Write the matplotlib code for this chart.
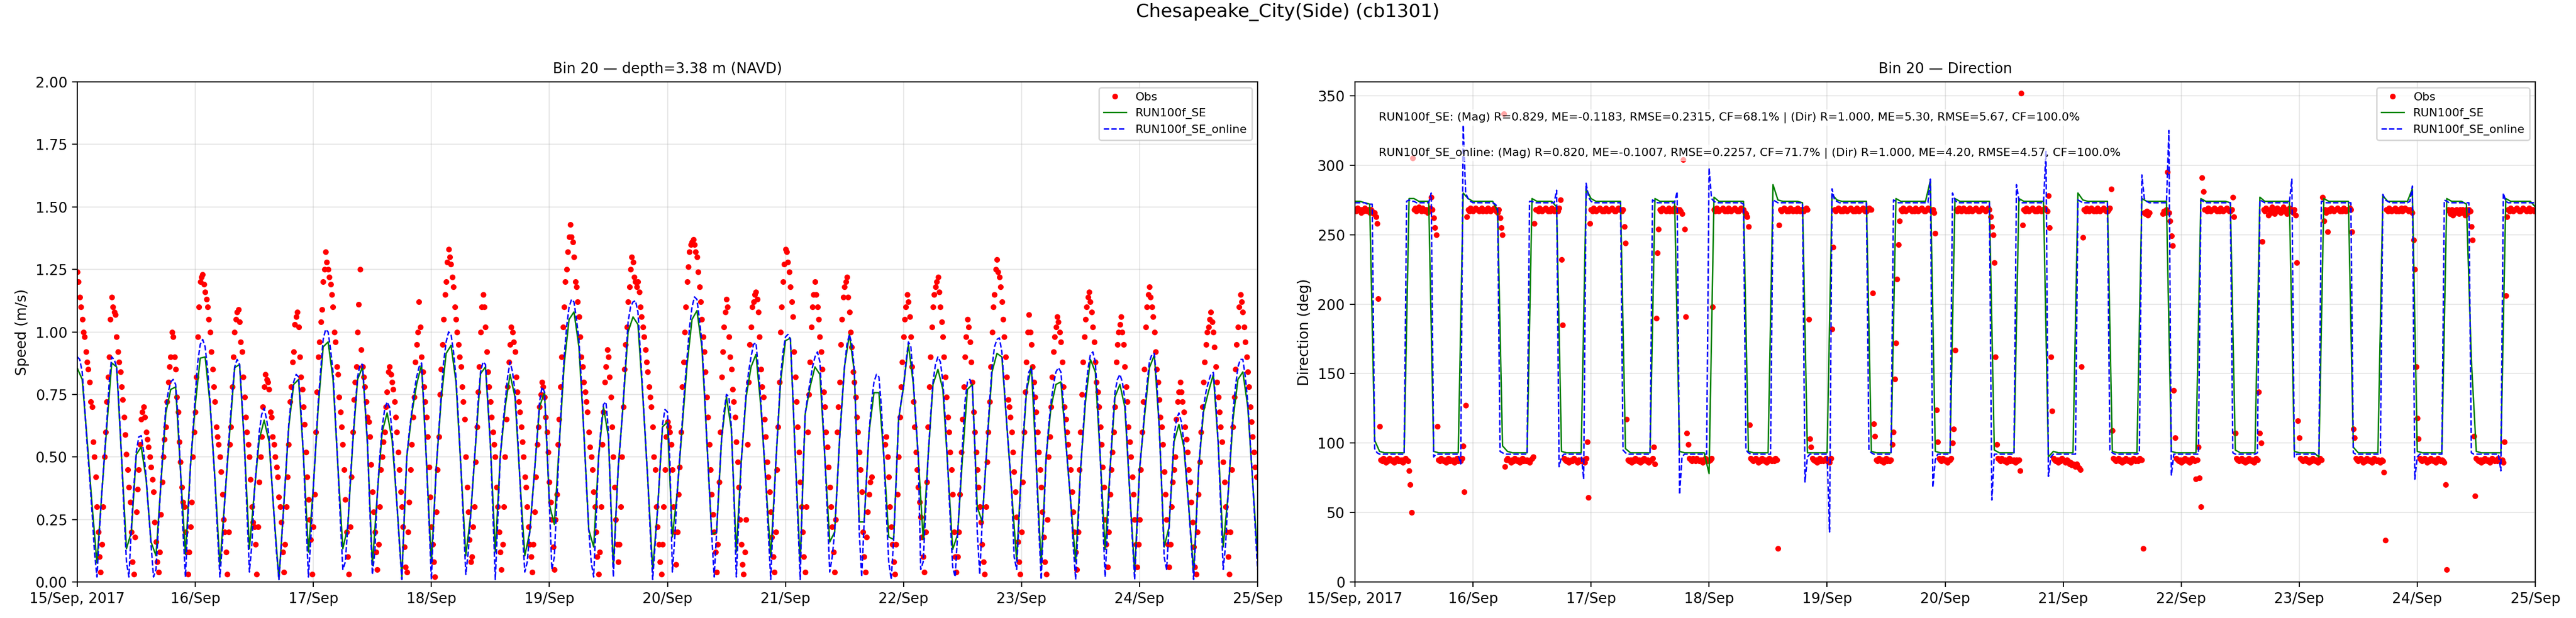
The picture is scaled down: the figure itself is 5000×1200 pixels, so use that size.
import numpy as np
import pandas as pd
import matplotlib
matplotlib.use("Agg")
import matplotlib.pyplot as plt

nan = float("nan")

# ---------------- text ----------------
station_title = "Chesapeake_City(Side) (cb1301)"
speed_title = "Bin 20 \u2014 depth=3.38 m (NAVD)"
dir_title = "Bin 20 \u2014 Direction"
speed_ylabel = "Speed (m/s)"
dir_ylabel = "Direction (deg)"
series_names = ["Obs", "RUN100f_SE", "RUN100f_SE_online"]
stats_lines = [
    "RUN100f_SE: (Mag) R=0.829, ME=-0.1183, RMSE=0.2315, CF=68.1% | (Dir) R=1.000, ME=5.30, RMSE=5.67, CF=100.0%",
    "RUN100f_SE_online: (Mag) R=0.820, ME=-0.1007, RMSE=0.2257, CF=71.7% | (Dir) R=1.000, ME=4.20, RMSE=4.57, CF=100.0%",
]
start_time = "2017-09-15 00:00"
x_tick_labels = ["15/Sep, 2017", "16/Sep", "17/Sep", "18/Sep", "19/Sep", "20/Sep",
                 "21/Sep", "22/Sep", "23/Sep", "24/Sep", "25/Sep"]
speed_ticks = [0.0, 0.25, 0.5, 0.75, 1.0, 1.25, 1.5, 1.75, 2.0]
dir_ticks = [0, 50, 100, 150, 200, 250, 300, 350]

# ---------------- observations (every 15 min), speed in cm/s ----------------
obs_speed_cms = [
    124,120,114,110, 105,100,98,92, 88,85,80,72, 70,56,50,42,
    30,20,10,4, 15,30,50,60, 72,82,90,105, 114,110,108,107,
    98,92,88,84, 78,73,66,59, 51,45,38,32, 20,8,3,18,
    28,37,45,55, 65,68,70,66, 60,57,54,50, 46,41,36,24,
    16,8,4,12, 27,40,50,57, 62,72,80,86, 90,100,98,90,
    85,74,68,56, 48,38,32,30, 20,12,3,12, 22,32,50,60,
    68,82,98,110, 120,122,123,119, 116,113,110,105, 100,92,85,78,
    72,62,58,55, 50,44,35,25, 20,12,3,20, 55,62,78,90,
    100,105,108,109, 104,96,92,82, 74,66,60,55, 50,41,30,24,
    22,15,3,22, 40,50,58,70, 78,83,81,80, 77,68,66,58,
    55,50,46,42, 34,30,24,12, 4,15,30,42, 55,72,78,88,
    92,103,106,108, 102,90,82,77, 70,63,52,42, 33,25,17,3,
    22,35,60,76, 90,96,104,109, 120,125,132,128, 125,122,119,115,
    110,100,96,86, 83,74,68,62, 55,45,33,20, 10,3,22,42,
    60,73,80,86, 100,111,125,93, 86,82,78,72, 66,64,58,47,
    36,28,20,12, 5,15,30,45, 50,56,60,70, 76,84,86,83,
    80,77,72,66, 60,52,45,36, 30,22,14,6, 4,20,32,45,
    55,66,74,88, 95,100,112,102, 90,84,78,72, 66,58,46,34,
    22,15,8,2, 28,45,58,75, 85,95,105,115, 120,128,133,130,
    127,122,118,110, 105,100,95,90, 86,78,72,65, 50,38,28,17,
    8,10,22,30, 48,62,76,86, 100,110,115,110, 102,92,84,78,
    72,66,60,55, 50,38,30,20, 12,5,15,30, 50,65,78,88,
    95,102,100,96, 92,82,76,72, 68,62,56,50, 42,38,30,22,
    15,10,4,15, 28,42,55,62, 70,75,80,78, 74,66,60,52,
    40,32,25,14, 5,25,35,55, 65,78,90,102, 110,120,125,132,
    138,143,138,136, 130,120,118,112, 106,98,90,86, 80,76,72,68,
    60,54,50,45, 36,30,20,10, 3,12,30,55, 68,80,86,93,
    90,82,74,62, 50,38,25,15, 8,15,30,50, 70,85,95,102,
    112,118,125,130, 128,122,120,118, 120,116,110,106, 102,98,93,88,
    84,78,74,70, 62,50,45,30, 22,15,8,3, 15,30,45,58,
    64,62,60,55, 45,30,20,7, 20,35,46,60, 78,88,100,110,
    120,126,132,135, 136,137,135,132, 130,124,118,112, 105,98,92,84,
    74,66,55,45, 35,27,20,12, 4,15,40,60, 82,92,102,108,
    113,110,98,90, 85,77,72,66, 56,48,38,25, 15,7,3,12,
    25,55,80,95, 102,110,112,115, 116,113,108,98, 85,78,74,65,
    58,48,42,36, 28,18,10,4, 20,45,62,80, 100,110,120,127,
    133,132,128,124, 118,112,106,92, 82,72,62,52, 40,30,20,10,
    4,30,60,75, 88,102,110,115, 120,115,110,105, 98,92,85,76,
    70,60,54,46, 38,30,22,12, 4,25,60,70, 80,95,105,114,
    118,120,122,114, 108,100,94,84, 80,74,66,60, 52,45,36,20,
    10,4,18,28, 35,40,42,nan, nan,nan,nan,nan, nan,nan,nan,nan,
    nan,55,58,50, 42,30,22,15, 8,3,15,35, 50,66,78,88,
    98,105,110,115, 112,106,98,86, 72,62,52,45, 38,32,26,18,
    10,4,20,40, 62,78,90,102, 110,115,118,120, 122,116,110,104,
    98,90,82,74, 66,60,52,45, 35,20,10,4, 10,20,35,52,
    65,78,90,98, 105,102,96,88, 80,68,60,52, 45,38,30,24,
    15,8,3,30, 48,60,72,86, 100,110,115,125, 129,124,122,118,
    112,105,98,90, 82,73,70,66, 60,52,44,36, 26,16,8,3,
    20,40,60,76, 88,100,107,100, 95,86,80,74, 68,60,52,45,
    38,28,18,8, 3,25,50,58, 70,82,92,98, 102,106,104,100,
    96,88,78,70, 65,60,55,50, 45,36,28,20, 12,5,20,45,
    60,75,88,98, 105,110,114,116, 112,108,102,96, 88,80,76,70,
    62,55,46,38, 25,15,6,20, 35,45,52,60, 70,88,95,100,
    103,106,100,95, 86,78,72,62, 56,50,42,35, 25,15,6,15,
    25,45,60,72, 85,102,110,115, 118,114,110,106, 100,92,85,80,
    73,66,62,55, 44,35,25,15, 6,15,30,40, 45,50,65,72,
    76,80,76,72, 68,62,57,52, 45,40,32,24, 14,6,3,20,
    35,48,60,70, 80,88,95,100, 102,105,108,104, 100,94,86,80,
    74,68,62,56, 48,40,30,20, 10,3,20,45, 62,74,85,95,
    102,110,115,112, 108,102,96,90, 84,78,70,64, 58,52,46,42,
]

# observations (every 15 min), direction in degrees
obs_dir_deg = [
    268,267,269,268, 268,266,268,267, 269,268,267,268, 266,268,267,265,
    266,263,258,204, 112,88,87,89, 88,86,88,87, 89,88,87,88,
    86,88,89,87, 88,87,88,86, 87,89,88,87, 80,70,50,305,
    268,269,267,268, 270,268,267,269, 268,267,268,266, 268,269,277,268,
    262,255,250,112, 88,87,89,88, 87,88,86,88, 89,87,88,87,
    88,86,88,89, 87,88,87,89, 98,65,127,263, 268,267,269,268,
    267,268,269,268, 268,267,268,269, 267,268,268,267, 269,268,267,268,
    268,269,268,267, 266,268,262,255, 250,337,83,88, 89,88,87,86,
    88,87,89,88, 87,88,86,88, 89,87,88,87, 88,87,86,88,
    89,90,258,268, 268,267,269,268, 267,268,268,269, 268,267,268,267,
    269,268,267,268, 268,267,269,275, 232,185,89,88, 87,88,86,87,
    88,87,89,88, 87,86,88,87, 88,87,88,86, 89,101,61,258,
    268,267,269,268, 267,268,268,269, 268,267,268,267, 269,268,267,268,
    268,269,268,267, 267,268,269,268, 268,267,268,256, 244,117,88,87,
    88,86,88,87, 89,88,87,88, 86,88,87,89, 88,87,88,86,
    87,88,89,97, 85,190,237,254, 268,267,269,268, 268,267,268,269,
    267,268,268,267, 269,268,267,268, 268,267,265,304, 254,191,107,99,
    89,88,87,89, 88,87,89,88, 87,88,88,86, 88,89,87,88,
    87,88,89,198, 268,267,269,268, 267,268,268,269, 268,267,268,267,
    269,268,267,268, 268,269,268,267, 267,268,269,268, 268,266,265,263,
    256,113,89,88, 87,88,89,88, 86,88,87,89, 88,87,88,86,
    87,89,88,87, 88,87,89,88, 24,257,268,267, 268,269,268,267,
    268,267,269,268, 267,268,268,267, 269,268,267,268, 268,267,268,269,
    268,189,103,97, 89,88,87,88, 86,88,89,87, 88,87,88,89,
    87,88,86,89, 182,241,268,267, 268,269,268,267, 268,267,269,268,
    267,268,268,269, 268,267,268,267, 269,268,267,268, 268,269,268,267,
    267,268,269,268, 268,208,114,105, 88,87,89,88, 87,88,86,88,
    89,87,88,87, 88,99,108,146, 172,218,243,260, 268,267,269,268,
    267,268,268,269, 268,267,268,267, 269,268,267,268, 268,269,268,267,
    267,268,269,268, 268,267,268,266, 251,124,101,89, 88,87,89,88,
    87,88,86,88, 88,89,100,110, 167,268,267,269, 268,267,268,269,
    268,267,268,267, 269,268,267,268, 268,269,268,267, 267,268,269,268,
    268,267,268,269, 268,263,256,250, 230,162,99,89, 88,87,89,88,
    87,88,86,88, 89,87,88,87, 88,86,88,87, 88,80,352,257,
    268,267,269,268, 267,268,268,269, 268,267,268,267, 269,268,267,268,
    268,269,268,267, 278,255,162,123, 89,88,87,88, 86,88,87,89,
    88,87,86,88, 87,85,86,84, 85,84,83,85, 83,82,81,155,
    248,268,267,269, 268,267,268,269, 268,267,268,267, 269,268,267,268,
    268,269,268,267, 267,268,269,283, 109,89,88,87, 88,89,87,88,
    86,88,87,89, 88,87,88,86, 87,89,88,87, 88,87,89,88,
    88,24,266,265, 267,264,266,nan, nan,nan,nan,nan, nan,nan,nan,nan,
    nan,265,267,266, 268,295,266,260, 249,242,138,104, 89,88,87,88,
    86,88,87,89, 88,87,88,86, 87,89,88,87, 74,88,97,75,
    54,291,281,268, 268,267,269,268, 267,268,268,269, 268,267,268,267,
    269,268,267,268, 268,269,268,267, 267,268,277,263, 107,89,88,87,
    88,89,87,88, 86,88,87,89, 88,87,88,86, 87,89,88,137,
    107,100,245,268, 267,269,268,264, 268,266,270,267, 265,268,269,267,
    268,266,268,270, 267,268,265,268, 269,267,268,266, 268,264,230,116,
    104,89,88,87, 88,89,87,88, 86,88,87,89, 88,87,88,86,
    87,89,88,277, 260,268,266,252, 268,267,269,268, 267,268,268,269,
    268,267,268,267, 269,268,267,268, 268,269,268,252, 110,104,89,88,
    87,88,89,88, 86,88,87,89, 88,87,88,86, 87,89,88,87,
    88,87,86,88, 87,79,30,268, 267,269,268,267, 268,268,269,267,
    268,267,268,269, 267,268,269,268, 268,267,268,267, 266,246,225,155,
    118,103,89,88, 87,88,89,88, 86,88,87,89, 88,87,88,86,
    87,89,88,87, 88,87,86,70, 9,268,267,265, 268,264,267,266,
    268,267,265,268, 266,268,267,264, 268,266,268,267, 256,246,105,62,
    89,88,87,88, 86,88,87,89, 88,87,88,86, 87,89,88,87,
    88,87,89,88, 87,88,86,101, 206,263,268,267, 269,268,267,268,
    268,269,268,267, 267,268,269,268, 268,267,268,269, 267,268,268,267,
]

# ---------------- RUN100f_SE (hourly) ----------------
se_speed = [
    .855,.81,.57,.31,.076,.36,.62,.876,.86,.50,
    .133,.20,.51,.54,.41,.16,.105,.39,.676,.77,
    .78,.44,.11,.46,.71,.895,.90,.71,.41,.067,
    .33,.60,.857,.87,.54,.133,.36,.57,.647,.56,
    .27,.01,.31,.62,.79,.81,.50,.12,.38,.70,
    .94,.96,.81,.46,.133,.22,.55,.81,.86,.55,
    .067,.35,.60,.676,.57,.31,.02,.50,.67,.79,
    .87,.48,.076,.46,.73,.914,.946,.80,.46,.105,
    .27,.55,.833,.86,.55,.12,.50,.70,.83,.74,
    .41,.105,.20,.45,.70,.76,.31,.23,.55,.87,
    1.05,1.08,.94,.60,.21,.14,.50,.70,.58,.06,
    .46,.71,1.00,1.06,1.03,.74,.41,.05,.29,.62,
    .64,.18,.36,.62,.87,1.05,1.085,.94,.57,.19,
    .20,.57,.74,.61,.12,.48,.74,.86,.91,.70,
    .40,.10,.46,.80,.965,.975,.50,.076,.67,.78,
    .86,.83,.50,.16,.20,.57,.86,.99,.84,.24,
    .24,.60,.757,.757,.50,.18,.17,.65,.78,.95,
    .79,.50,.17,.50,.79,.85,.77,.46,.13,.19,
    .50,.77,.79,.30,.24,.55,.84,.914,.90,.63,
    .36,.086,.46,.76,.86,.47,.067,.50,.70,.79,
    .80,.56,.32,.08,.45,.72,.89,.84,.50,.13,
    .45,.74,.79,.70,.36,.04,.45,.66,.857,.907,
    .62,.14,.22,.56,.63,.54,.30,.04,.45,.68,
    .76,.83,.55,.14,.35,.65,.81,.84,.70,.40,
    .10,
]
se_dir = [
    274,274,273,272,102,94,93,93,93,93,
    93,276,276,274,274,274,94,93,93,93,
    93,93,280,276,274,274,274,274,274,267,
    98,94,93,93,93,93,276,274,274,274,
    274,270,94,93,93,93,93,283,276,274,
    274,274,274,274,274,96,93,93,93,93,
    93,276,274,274,274,274,94,93,93,93,
    93,93,78,277,274,274,274,274,274,274,
    94,93,93,93,93,286,275,274,274,274,
    274,273,93,93,93,93,93,279,275,274,
    274,274,274,274,274,94,93,93,93,93,
    276,274,274,274,274,274,274,289,94,93,
    93,93,276,274,274,274,274,274,274,274,
    95,93,93,93,93,276,274,274,274,274,
    274,90,94,93,93,93,93,280,275,274,
    274,274,274,274,94,93,93,93,93,93,
    276,274,274,274,274,274,94,93,93,93,
    93,93,276,274,274,274,274,274,273,95,
    93,93,93,93,277,274,274,274,274,274,
    274,94,93,93,93,93,90,276,274,274,
    274,274,274,97,93,93,93,93,93,278,
    274,274,274,274,274,283,94,93,93,93,
    93,93,276,274,274,274,272,160,94,93,
    93,93,93,93,276,274,274,274,274,274,
    270,
]

# ---------------- RUN100f_SE_online (every 30 min) ----------------
online_speed = [
    .90,.89, .84,.70, .55,.42, .28,.12, .02,.20,
    .36,.50, .64,.80, .90,.89, .86,.70, .50,.28,
    .08,.02, .22,.38, .52,.58, .585,.52, .42,.28,
    .15,.02, .05,.22, .40,.56, .70,.76, .80,.81,
    .79,.65, .44,.20, .02,.25, .46,.60, .75,.88,
    .95,.97, .94,.85, .72,.56, .40,.20, .02,.15,
    .33,.48, .62,.75, .86,.89, .87,.72, .54,.28,
    .04,.15, .36,.48, .60,.67, .695,.65, .58,.42,
    .27,.12, .01,.15, .31,.47, .63,.73, .80,.83,
    .82,.68, .50,.25, .02,.18, .38,.55, .72,.85,
    .97,1.01, 1.00,.93, .84,.65, .46,.24, .05,.08,
    .22,.40, .56,.70, .82,.87, .87,.72, .56,.28,
    .03,.12, .35,.50, .62,.69, .72,.70, .60,.46,
    .31,.15, .01,.28, .50,.60, .68,.76, .82,.86,
    .876,.70, .48,.25, .01,.25, .46,.60, .75,.88,
    .96,1.00, .99,.92, .82,.65, .46,.25, .03,.12,
    .27,.42, .56,.72, .84,.88, .87,.72, .55,.28,
    .01,.25, .50,.62, .72,.82, .88,.84, .76,.60,
    .41,.20, .04,.08, .20,.32, .45,.58, .72,.78,
    .76,.55, .31,.05, .10,.32, .55,.74, .90,1.02,
    1.10,1.13, 1.12,1.05, .97,.80, .60,.40, .21,.08,
    .02,.25, .50,.62, .71,.72, .60,.30, .02,.25,
    .46,.58, .72,.88, 1.04,1.10, 1.12,1.125, 1.08,.92,
    .75,.58, .41,.20, .01,.15, .29,.46, .63,.69,
    .68,.48, .04,.18, .36,.50, .64,.78, .90,1.02,
    1.10,1.14, 1.13,1.05, .96,.78, .57,.38, .19,.02,
    .20,.40, .57,.68, .75,.74, .62,.35, .02,.25,
    .48,.62, .76,.84, .90,.95, .957,.85, .72,.56,
    .40,.20, .01,.25, .46,.64, .82,.92, .98,.99,
    .97,.75, .50,.25, .01,.40, .67,.74, .80,.86,
    .90,.92, .88,.70, .50,.28, .04,.10, .20,.38,
    .57,.72, .86,.95, .99,.95, .85,.55, .20,.02,
    .24,.42, .60,.72, .80,.83, .82,.70, .50,.28,
    .08,.01, .17,.40, .65,.72, .78,.88, .96,.94,
    .80,.65, .50,.05, .08,.28, .50,.66, .80,.87,
    .90,.88, .80,.65, .46,.25, .06,.02, .19,.36,
    .55,.72, .80,.81, .78,.55, .20,.03, .24,.40,
    .56,.72, .86,.94, .97,.976, .92,.78, .63,.50,
    .36,.10, .05,.25, .46,.63, .77,.84, .857,.75,
    .47,.22, .01,.25, .50,.62, .72,.79, .84,.857,
    .84,.72, .56,.44, .32,.15, .01,.22, .45,.60,
    .75,.85, .91,.92, .88,.72, .50,.25, .02,.22,
    .45,.62, .76,.81, .83,.80, .73,.55, .36,.18,
    .01,.22, .45,.56, .68,.79, .88,.91, .914,.80,
    .62,.38, .10,.05, .22,.40, .58,.65, .676,.64,
    .56,.43, .30,.15, .01,.22, .45,.58, .70,.76,
    .80,.83, .838,.72, .55,.30, .05,.15, .35,.52,
    .68,.78, .86,.89, .89,.82, .72,.56, .40,.22,
    .05,
]
online_dir = [
    273,273, 273,273, 273,272, 272,272, 96,93,
    92,92, 92,92, 92,92, 92,92, 92,92,
    92,274, 275,274, 274,273, 273,273, 273,273,
    273,280, 90,92, 92,92, 92,92, 92,92,
    92,92, 92,85, 329,280, 276,274, 273,273,
    273,273, 273,273, 273,273, 273,272, 270,94,
    93,92, 92,92, 92,92, 92,92, 92,92,
    92,274, 274,273, 273,273, 273,273, 273,273,
    273,273, 282,83, 90,92, 92,92, 92,92,
    92,92, 92,74, 287,277, 274,273, 273,273,
    273,273, 273,273, 273,273, 273,273, 273,95,
    93,92, 92,92, 92,92, 92,92, 92,92,
    92,275, 274,273, 273,273, 273,273, 273,273,
    273,281, 63,90, 92,92, 92,92, 92,92,
    92,92, 92,92, 298,276, 274,273, 273,273,
    273,273, 273,273, 273,273, 273,273, 272,95,
    93,92, 92,92, 92,92, 92,92, 92,92,
    275,274, 273,273, 273,273, 273,273, 273,273,
    273,273, 273,72, 90,92, 92,92, 92,92,
    92,92, 92,36, 283,275, 274,273, 273,273,
    273,273, 273,273, 273,273, 273,273, 273,95,
    93,92, 92,92, 92,92, 92,92, 92,275,
    274,273, 273,273, 273,273, 273,273, 273,273,
    273,273, 273,273, 290,68, 88,92, 92,92,
    92,92, 92,280, 275,273, 273,273, 273,273,
    273,273, 273,273, 273,273, 273,273, 273,59,
    92,92, 92,92, 92,92, 92,92, 92,286,
    275,273, 273,273, 273,273, 273,273, 273,273,
    273,310, 76,90, 92,92, 92,92, 92,92,
    92,92, 92,92, 275,274, 273,273, 273,273,
    273,273, 273,273, 273,273, 273,95, 93,92,
    92,92, 92,92, 92,92, 92,92, 92,93,
    293,276, 274,273, 273,273, 273,273, 273,273,
    273,325, 77,92, 92,92, 92,92, 92,92,
    92,92, 92,92, 275,274, 273,273, 273,273,
    273,273, 273,273, 273,273, 273,93, 92,92,
    92,92, 92,92, 92,92, 92,93, 275,274,
    273,273, 273,273, 273,273, 273,273, 273,273,
    273,290, 90,92, 92,92, 92,92, 92,92,
    92,92, 92,274, 274,273, 273,273, 273,273,
    273,273, 273,273, 273,273, 93,92, 92,92,
    92,92, 92,92, 92,92, 92,92, 279,275,
    274,273, 273,273, 273,273, 273,273, 273,274,
    285,74, 90,92, 92,92, 92,92, 92,92,
    92,92, 92,275, 274,273, 273,273, 273,273,
    273,273, 273,273, 93,92, 92,92, 92,92,
    92,92, 92,92, 92,92, 80,280, 274,273,
    273,273, 273,273, 273,273, 273,273, 273,273,
    273,
]

assert len(obs_speed_cms) == 960 and len(obs_dir_deg) == 960
assert len(se_speed) == 241 and len(se_dir) == 241
assert len(online_speed) == 481 and len(online_dir) == 481

# ---------------- time axes ----------------
t_obs = pd.date_range(start_time, periods=len(obs_speed_cms), freq="15min")
t_se = pd.date_range(start_time, periods=len(se_speed), freq="h")
t_online = pd.date_range(start_time, periods=len(online_speed), freq="30min")
day_ticks = pd.date_range(start_time, periods=len(x_tick_labels), freq="D")

obs_speed = np.array(obs_speed_cms, dtype=float) / 100.0
obs_dir = np.array(obs_dir_deg, dtype=float)

# ---------------- figure ----------------
plt.rcParams["font.family"] = ["DejaVu Sans"]
fig = plt.figure(figsize=(25, 6), dpi=200)
ax1 = fig.add_axes([0.0300, 0.0583, 0.4582, 0.8092])
ax2 = fig.add_axes([0.5260, 0.0583, 0.4582, 0.8092])

panels = [
    (ax1, obs_speed, se_speed, online_speed, speed_title, speed_ylabel, (0, 2.0), speed_ticks, "%.2f"),
    (ax2, obs_dir, se_dir, online_dir, dir_title, dir_ylabel, (0, 360), dir_ticks, "%d"),
]
for ax, obs, se, onl, title, ylab, ylim, yt, fmt in panels:
    ax.plot(t_obs, obs, "o", color="red", ms=4, mew=0, label=series_names[0], zorder=2)
    ax.plot(t_se, se, "-", color="green", lw=1.0, label=series_names[1], zorder=2.1)
    ax.plot(t_online, onl, "--", color="blue", lw=1.0, label=series_names[2], zorder=2.2)
    ax.set_xlim(day_ticks[0], day_ticks[-1])
    ax.set_ylim(*ylim)
    ax.set_yticks(yt)
    ax.set_yticklabels([fmt % v for v in yt])
    ax.set_xticks(day_ticks)
    ax.set_xticklabels(x_tick_labels)
    ax.set_title(title, fontsize=10)
    ax.set_ylabel(ylab)
    ax.grid(True, alpha=0.3)
    ax.legend(loc="upper right", fontsize=8)

ax2.text(0.02, 0.929, stats_lines[0], transform=ax2.transAxes, fontsize=8,
         ha="left", va="center", zorder=5,
         bbox=dict(facecolor="white", alpha=0.65, edgecolor="none", pad=2))
ax2.text(0.02, 0.858, stats_lines[1], transform=ax2.transAxes, fontsize=8,
         ha="left", va="center", zorder=5,
         bbox=dict(facecolor="white", alpha=0.65, edgecolor="none", pad=2))

fig.suptitle(station_title, fontsize=13, y=0.995, va="top")
fig.savefig("out.png", dpi=200)
